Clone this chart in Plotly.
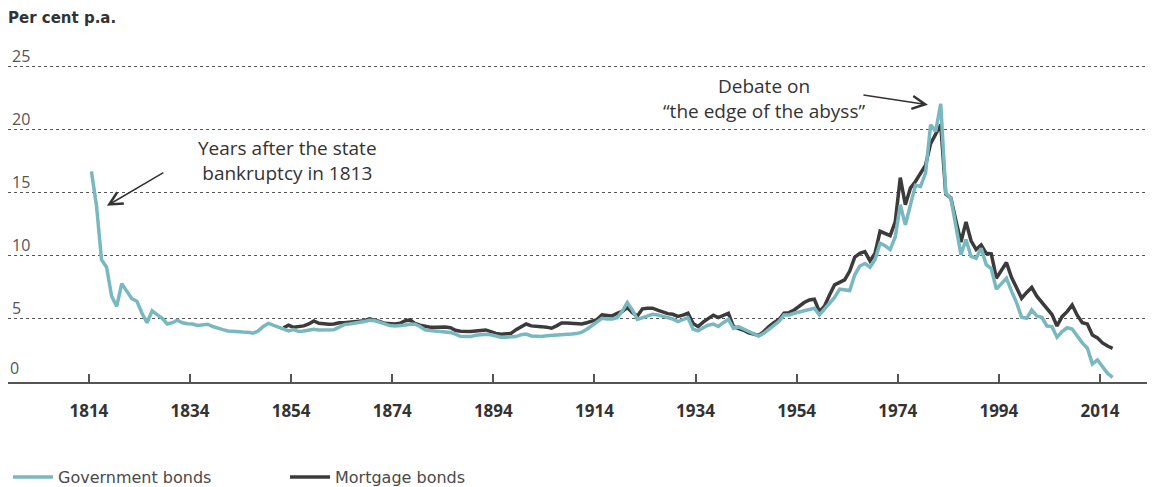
import plotly.graph_objects as go

# ---- data (annual, per cent p.a.) ----
gov_years = list(range(1814, 2017))
gov_vals = [
    16.7, 14.0, 9.7, 9.1, 6.8, 6.0, 7.8, 7.2, 6.6, 6.4,          # 1814-1823
    5.45, 4.7, 5.65, 5.35, 5.05, 4.6, 4.7, 4.9, 4.7, 4.62,       # 1824-1833
    4.6, 4.48, 4.5, 4.58, 4.4, 4.25, 4.15, 4.05, 4.0, 3.97,      # 1834-1843
    3.96, 3.95, 3.87, 4.05, 4.4, 4.65, 4.5, 4.35, 4.2, 4.05,     # 1844-1853
    4.15, 4.0, 4.05, 4.12, 4.18, 4.13, 4.13, 4.13, 4.15, 4.35,   # 1854-1863
    4.55, 4.6, 4.65, 4.68, 4.8, 4.9, 4.87, 4.75, 4.58, 4.47,     # 1864-1873
    4.44, 4.44, 4.5, 4.6, 4.58, 4.4, 4.13, 4.08, 4.05, 4.0,      # 1874-1883
    3.98, 3.92, 3.8, 3.62, 3.6, 3.6, 3.7, 3.74, 3.78, 3.75,      # 1884-1893
    3.62, 3.55, 3.55, 3.56, 3.6, 3.75, 3.8, 3.65, 3.62, 3.6,     # 1894-1903
    3.66, 3.68, 3.68, 3.72, 3.76, 3.8, 3.84, 3.95, 4.18, 4.45,   # 1904-1913
    4.8, 5.05, 5.0, 5.0, 5.1, 5.6, 6.3, 5.7, 4.97, 5.1,          # 1914-1923
    5.3, 5.37, 5.32, 5.2, 5.15, 5.0, 4.79, 4.92, 5.1, 4.2,       # 1924-1933
    4.05, 4.3, 4.5, 4.6, 4.4, 4.7, 4.97, 4.26, 4.39, 4.2,        # 1934-1943
    4.0, 3.8, 3.65, 3.86, 4.2, 4.5, 4.8, 5.32, 5.32, 5.45,       # 1944-1953
    5.55, 5.65, 5.8, 5.85, 5.32, 5.8, 6.3, 6.7, 7.36, 7.3,       # 1954-1963
    7.25, 8.5, 9.2, 9.4, 9.1, 9.7, 11.0, 10.8, 10.5, 11.5,       # 1964-1973
    14.05, 12.46, 14.05, 15.6, 15.5, 16.56, 20.4, 19.87, 22.06, 14.97,  # 1974-1983
    14.6, 12.2, 10.1, 11.3, 9.95, 9.8, 10.6, 9.3, 9.0, 7.36,     # 1984-1993
    7.8, 8.23, 7.2, 6.3, 5.13, 5.05, 5.71, 5.24, 5.13, 4.44,     # 1994-2003
    4.39, 3.55, 4.0, 4.3, 4.2, 3.6, 3.1, 2.7, 1.43, 1.75,        # 2004-2013
    1.21, 0.69, 0.37,                                            # 2014-2016
]

mort_years = list(range(1852, 2017))
mort_vals = [
    4.3, 4.5, 4.34, 4.4, 4.45, 4.6, 4.84, 4.65,                  # 1852-1859
    4.6, 4.58, 4.6, 4.7, 4.7, 4.75, 4.79, 4.8, 4.86, 5.0,        # 1860-1869
    4.92, 4.8, 4.65, 4.6, 4.6, 4.65, 4.85, 4.92, 4.65, 4.5,      # 1870-1879
    4.39, 4.35, 4.35, 4.38, 4.36, 4.3, 4.1, 4.03, 4.0, 4.0,      # 1880-1889
    4.05, 4.12, 4.13, 4.0, 3.85, 3.78, 3.8, 3.86, 4.15, 4.4,     # 1890-1899
    4.6, 4.45, 4.39, 4.39, 4.35, 4.26, 4.45, 4.68, 4.68, 4.65,   # 1900-1909
    4.62, 4.6, 4.7, 4.79, 4.95, 5.32, 5.28, 5.24, 5.45, 5.6,     # 1910-1919
    5.9, 5.5, 5.24, 5.8, 5.85, 5.85, 5.7, 5.55, 5.42, 5.37,      # 1920-1929
    5.2, 5.3, 5.45, 4.65, 4.39, 4.75, 5.0, 5.3, 5.1, 5.3,        # 1930-1939
    5.45, 4.39, 4.26, 4.1, 3.9, 3.8, 3.7, 4.0, 4.4, 4.7,         # 1940-1949
    4.95, 5.45, 5.5, 5.71, 6.0, 6.3, 6.5, 6.56, 5.58, 6.0,       # 1950-1959
    6.9, 7.7, 7.9, 8.1, 8.8, 9.9, 10.2, 10.34, 9.6, 10.2,        # 1960-1969
    11.95, 11.8, 11.6, 12.7, 16.2, 14.05, 15.37, 15.9, 16.56, 17.2,  # 1970-1979
    18.9, 19.6, 20.4, 14.9, 14.6, 12.8, 11.1, 12.7, 11.2, 10.5,  # 1980-1989
    10.87, 10.2, 10.16, 8.23, 8.9, 9.47, 8.3, 7.4, 6.64, 7.1,    # 1990-1999
    7.5, 6.8, 6.3, 5.8, 5.35, 4.44, 5.18, 5.58, 6.1, 5.3,        # 2000-2009
    4.7, 4.6, 3.73, 3.5, 3.1, 2.85, 2.67,                        # 2010-2016
]

tick_years = [1814, 1834, 1854, 1874, 1894, 1914, 1934, 1954, 1974, 1994, 2014]
y_ticks = [0, 5, 10, 15, 20, 25]

TEAL = "#79b8bf"
DARK = "#3b3b3b"
TXT = "#333333"
YLAB_FONT = dict(family="Open Sans", size=16, color="#555555")

fig = go.Figure()
# annual observations are drawn at mid-year
fig.add_trace(go.Scatter(
    x=[y + 0.5 for y in mort_years], y=mort_vals, mode="lines",
    name="Mortgage bonds", legendrank=2,
    line=dict(color=DARK, width=3.5),
))
fig.add_trace(go.Scatter(
    x=[y + 0.5 for y in gov_years], y=gov_vals, mode="lines",
    name="Government bonds", legendrank=1,
    line=dict(color=TEAL, width=3.5),
))

fig.update_layout(
    width=1147, height=479,
    margin=dict(l=0, r=7, t=36, b=105, autoexpand=False),
    paper_bgcolor="white", plot_bgcolor="white",
    font=dict(family="Open Sans", color=TXT),
    showlegend=True,
    legend=dict(
        orientation="h", x=0, xanchor="left", y=-0.231, yanchor="top",
        font=dict(family="DejaVu Sans", size=16, color="#4a4a4a"),
        entrywidth=222, itemwidth=40, bgcolor="rgba(0,0,0,0)",
    ),
    xaxis=dict(
        range=[1798, 2023.5], tickvals=tick_years,
        ticktext=[str(t) for t in tick_years],
        showgrid=False, zeroline=False, automargin=False,
        showline=True, linecolor="#555555", linewidth=2,
        ticks="inside", ticklen=8, tickwidth=1.5, tickcolor="#555555",
        tickfont=dict(family="Open Sans", size=17, color="#333333", weight="bold"),
        ticklabelstandoff=13,
    ),
    yaxis=dict(
        range=[0, 26.8], tickvals=y_ticks, ticktext=[str(v) for v in y_ticks],
        showgrid=True, gridcolor="#555555", gridwidth=1, griddash="dot",
        zeroline=False, showline=False, ticks="", automargin=False,
        ticklabelposition="inside top",
        tickfont=YLAB_FONT,
        ticklabelstandoff=1, ticklabelshift=1,
    ),
    annotations=[
        dict(text="<b>Per cent p.a.</b>", xref="paper", yref="paper",
             x=0, y=1, xanchor="left", yanchor="middle", xshift=-2, yshift=26,
             showarrow=False,
             font=dict(family="DejaVu Sans", size=15, color="#333333")),
        # the baseline label (plotly hides the inside label that sits on the x axis)
        dict(text=str(y_ticks[0]), xref="paper", yref="y", x=0, y=y_ticks[0],
             xanchor="left", yanchor="bottom", yshift=1, showarrow=False,
             font=YLAB_FONT),
        dict(text="Years after the state<br>bankruptcy in 1813",
             xref="x", yref="y", x=1853.2, y=17.54, xanchor="center", yanchor="middle",
             showarrow=False, font=dict(size=19, color=TXT)),
        dict(text="", xref="x", yref="y", x=1817.56, y=13.97,
             ax=58, ay=-34, showarrow=True, arrowhead=5, arrowsize=1.7,
             arrowwidth=1.5, arrowcolor=TXT),
        dict(text="Debate on<br>\u201cthe edge of the abyss\u201d",
             xref="x", yref="y", x=1947.5, y=22.46, xanchor="center", yanchor="middle",
             showarrow=False, font=dict(size=19, color=TXT)),
        dict(text="", xref="x", yref="y", x=1979.97, y=21.98,
             ax=-66, ay=-10, showarrow=True, arrowhead=5, arrowsize=1.7,
             arrowwidth=1.5, arrowcolor=TXT),
    ],
)

fig.write_html("out.html")
